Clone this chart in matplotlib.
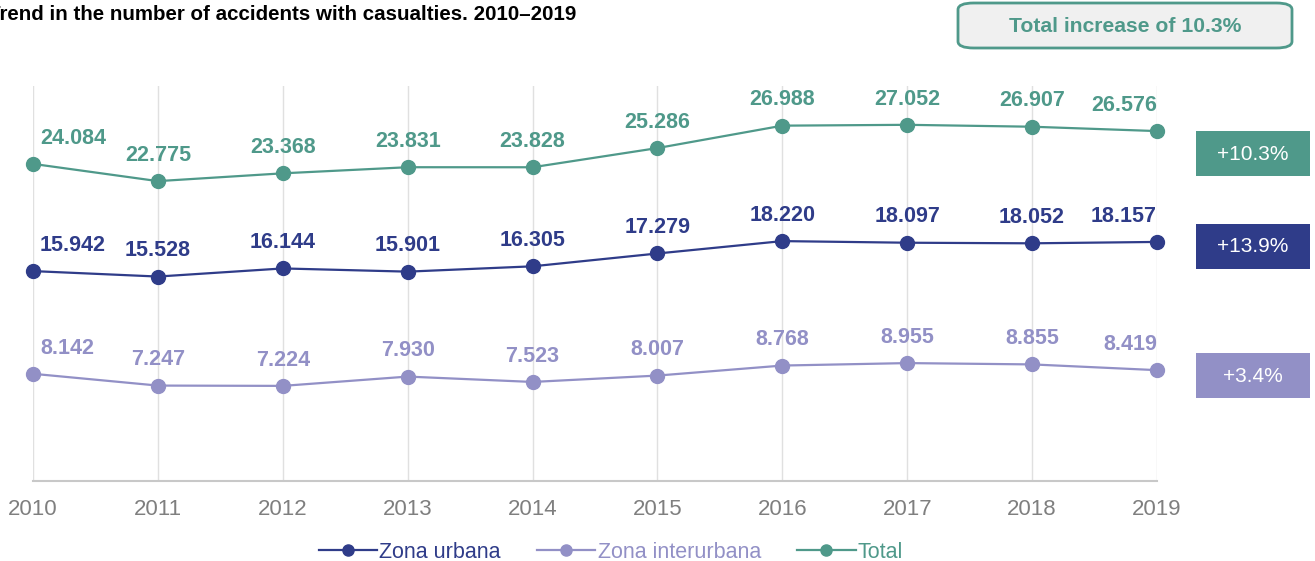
import matplotlib
matplotlib.use("Agg")
import matplotlib.pyplot as plt
from matplotlib.patches import FancyBboxPatch, Rectangle

plt.rcParams['font.family'] = ['Liberation Sans', 'DejaVu Sans']

# Datos
anios = [2010, 2011, 2012, 2013, 2014, 2015, 2016, 2017, 2018, 2019]
urbana = [15942, 15528, 16144, 15901, 16305, 17279, 18220, 18097, 18052, 18157]
interurbana = [8142, 7247, 7224, 7930, 7523, 8007, 8768, 8955, 8855, 8419]
total = [24084, 22775, 23368, 23831, 23828, 25286, 26988, 27052, 26907, 26576]
incrementos = ["+10.3%", "+13.9%", "+3.4%"]
titulo = "Trend in the number of accidents with casualties. 2010\u20132019"
recuadro = "Total increase of 10.3%"

cUrbana = "#2f3c89"
cInter = "#9290c6"
cTotal = "#4f998a"


def fmt(v):
    return "{:,}".format(v).replace(",", ".")


fig = plt.figure(figsize=(13.15, 5.61), dpi=100)
ax = fig.add_axes([33 / 1315, 1 - 481 / 561, (1157 - 33) / 1315, (481 - 86) / 561])

series = [(urbana, cUrbana, "Zona urbana"),
          (interurbana, cInter, "Zona interurbana"),
          (total, cTotal, "Total")]

for datos, color, nombre in series:
    ax.plot(anios, datos, color=color, linewidth=1.6, marker="o",
            markersize=10, label=nombre, clip_on=False, zorder=3)
    for i, (x, y) in enumerate(zip(anios, datos)):
        if i == 0:
            ha, dx = "left", 5
        elif i == len(anios) - 1:
            ha, dx = "right", 0
        else:
            ha, dx = "center", 0
        ax.annotate(fmt(y), (x, y), xytext=(dx, 11), textcoords="offset points",
                    ha=ha, va="bottom", fontsize=15.5, fontweight="bold", color=color)

ax.set_xlim(2010, 2019)
ax.set_ylim(0, 30000)
ax.set_xticks(anios)
ax.set_yticks([])
ax.grid(axis="x", color="#e0e0e0", linewidth=1)
ax.set_axisbelow(True)
for lado in ["top", "right", "left"]:
    ax.spines[lado].set_visible(False)
ax.spines["bottom"].set_color("#c8c8c8")
ax.spines["bottom"].set_linewidth(1.5)
ax.tick_params(axis="x", length=0, labelsize=16, labelcolor="#7f7f7f", pad=13)

# Titulo
fig.text(-12 / 1315, 1 - 14 / 561, titulo, fontsize=14.8, fontweight="bold",
         ha="left", va="center", color="black")

# Recuadro superior
caja = FancyBboxPatch((958 / 1315, 1 - 48 / 561), (1292 - 958) / 1315, 45 / 561,
                      boxstyle="round,pad=0,rounding_size=0.012",
                      transform=fig.transFigure, facecolor="#f0f0f0",
                      edgecolor=cTotal, linewidth=2, mutation_aspect=561 / 1315 * 2.3)
fig.patches.append(caja)
fig.text(1125 / 1315, 1 - 26 / 561, recuadro, fontsize=15.2, fontweight="bold",
         color=cTotal, ha="center", va="center")

# Cajas de incremento
cajas = [(131, cTotal, incrementos[0]), (224, cUrbana, incrementos[1]),
         (353, cInter, incrementos[2])]
for top, color, texto in cajas:
    r = Rectangle((1196 / 1315, 1 - (top + 45) / 561), 114 / 1315, 45 / 561,
                  transform=fig.transFigure, facecolor=color, edgecolor="none")
    fig.patches.append(r)
    fig.text(1253 / 1315, 1 - (top + 23) / 561, texto, fontsize=15, color="white",
             ha="center", va="center")

fig.legend(loc="center", bbox_to_anchor=(611 / 1315, 1 - 552 / 561), ncol=3,
           frameon=False, fontsize=15.5, labelcolor="linecolor", handlelength=2.7,
           handletextpad=0.1, columnspacing=1.7, markerscale=0.8)

fig.savefig("out.png", dpi=100)
